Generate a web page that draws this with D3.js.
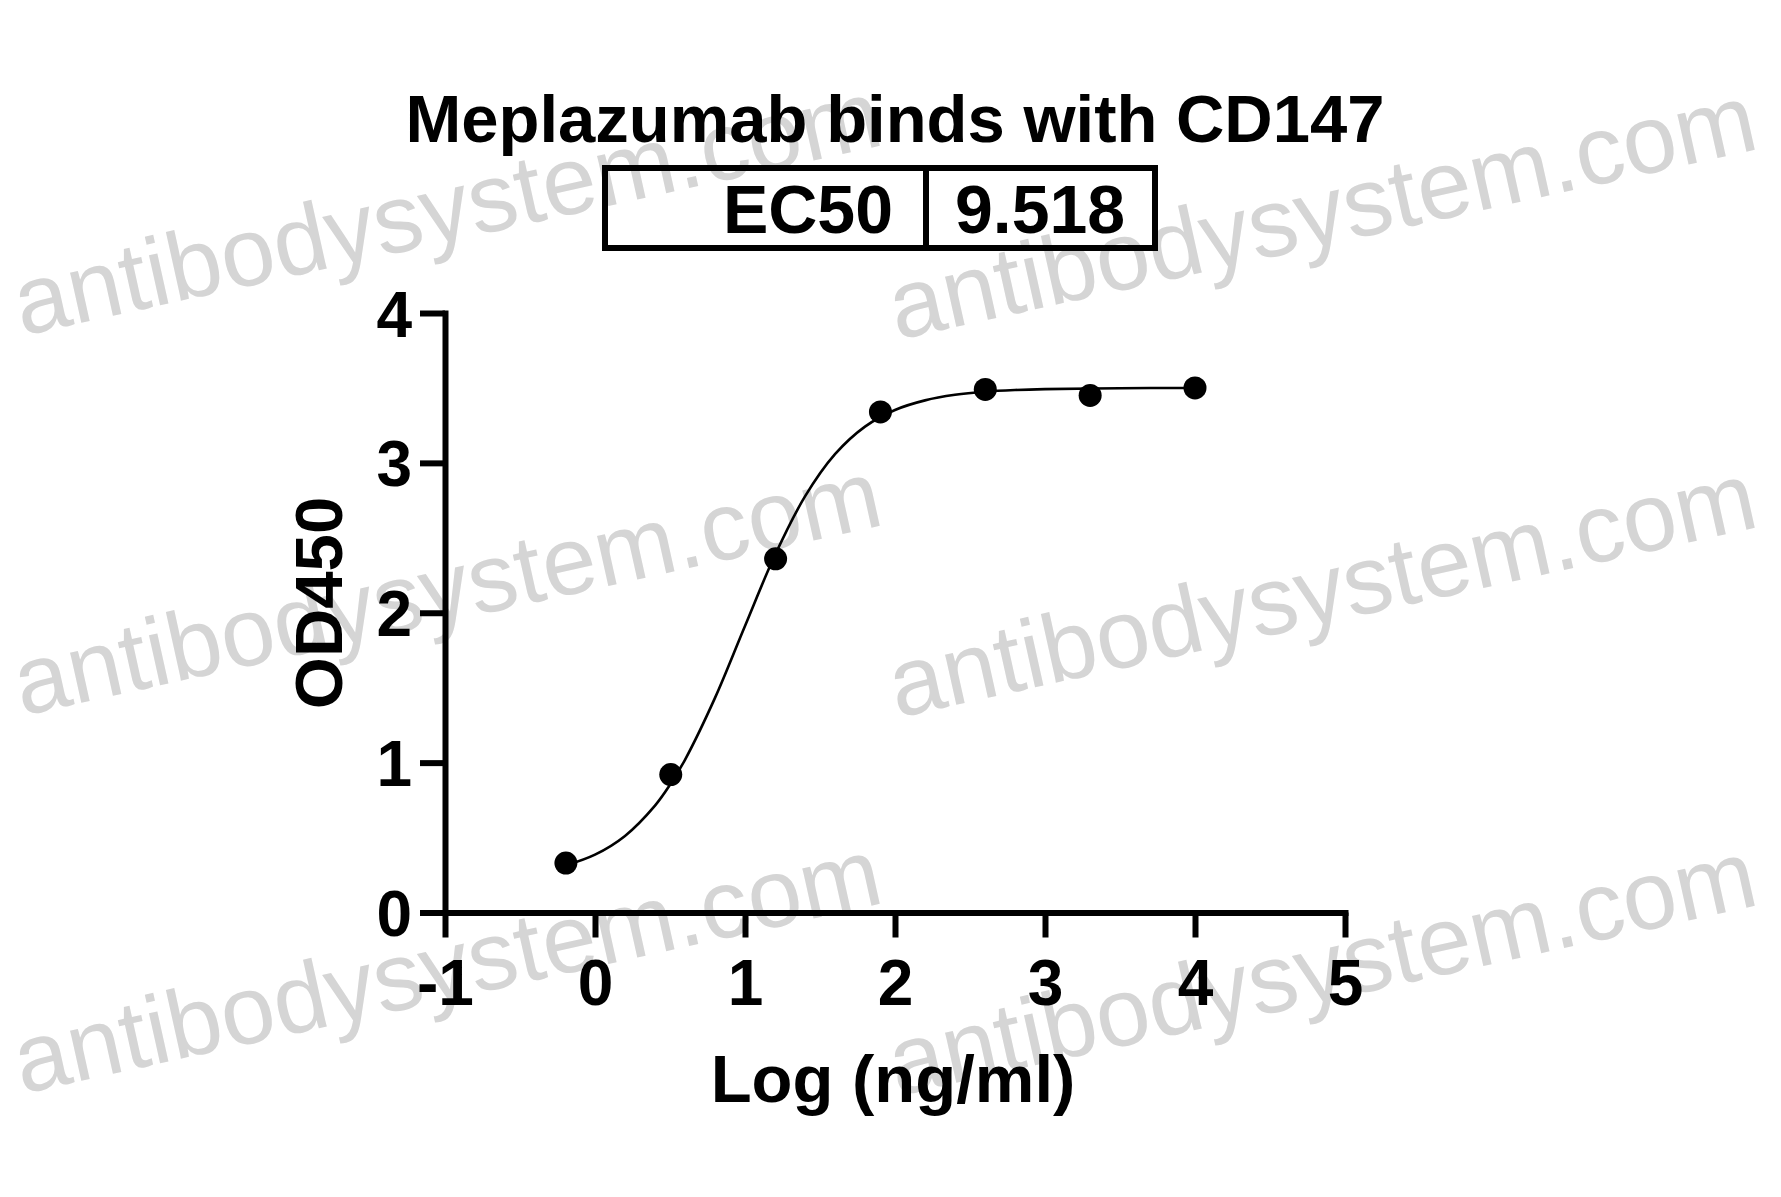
<!DOCTYPE html>
<html>
<head>
<meta charset="utf-8">
<script src="https://cdn.jsdelivr.net/npm/d3@7"></script>
<style>
  html, body { margin: 0; padding: 0; background: #ffffff; }
  svg { display: block; }
  text { font-family: "Liberation Sans", Arial, Helvetica, sans-serif; }
</style>
</head>
<body>
<svg id="chart" width="1781" height="1197"></svg>
<script>
// ---- data ----
const chartTitle = "Meplazumab binds with CD147";
const ec50Label = "EC50";
const ec50Value = "9.518";
const xAxisTitle = "Log (ng/ml)";
const yAxisTitle = "OD450";
const xTicks = [-1, 0, 1, 2, 3, 4, 5];
const xTickLabels = ["-1", "0", "1", "2", "3", "4", "5"];
const yTicks = [0, 1, 2, 3, 4];
const yTickLabels = ["0", "1", "2", "3", "4"];
// measured points: log10 concentration (ng/ml) and OD450
const logConc = [-0.194, 0.505, 1.204, 1.903, 2.602, 3.301, 4.0];
const od450 = [0.33, 0.92, 2.36, 3.34, 3.49, 3.45, 3.50];
// fitted curve
const curveX = [-0.19, 0.0, 0.2, 0.4, 0.5, 0.6, 0.8, 1.0, 1.2, 1.4, 1.6, 1.8, 2.0, 2.2, 2.4, 2.6, 2.8, 3.0, 3.5, 4.0];
const curveY = [0.316, 0.386, 0.511, 0.713, 0.852, 1.019, 1.432, 1.912, 2.385, 2.776, 3.058, 3.242, 3.353, 3.417, 3.454, 3.475, 3.486, 3.492, 3.498, 3.500];
const watermarkText = "antibodysystem.com";

// ---- layout ----
const svg = d3.select("#chart");
const x = d3.scaleLinear().domain([-1, 5]).range([445, 1345]);
const y = d3.scaleLinear().domain([0, 4]).range([912.5, 313]);

// watermarks
const wmPos = [[22, 336], [897, 340], [22, 716], [897, 718], [22, 1094], [897, 1096]];
const wm = svg.append("g").attr("class", "watermarks");
wmPos.forEach(p => {
  wm.append("text")
    .attr("transform", `translate(${p[0]},${p[1]}) rotate(-12.5)`)
    .attr("font-size", 97)
    .attr("fill", "#d5d5d5")
    .attr("textLength", 885)
    .attr("lengthAdjust", "spacingAndGlyphs")
    .text(watermarkText);
});

// title
svg.append("text")
  .attr("x", 895).attr("y", 142)
  .attr("text-anchor", "middle")
  .attr("font-size", 67).attr("font-weight", "bold")
  .attr("fill", "#000")
  .text(chartTitle);

// EC50 box
const box = svg.append("g");
box.append("rect")
  .attr("x", 605).attr("y", 168).attr("width", 550).attr("height", 80)
  .attr("fill", "none").attr("stroke", "#000").attr("stroke-width", 6);
box.append("line")
  .attr("x1", 926).attr("x2", 926).attr("y1", 168).attr("y2", 248)
  .attr("stroke", "#000").attr("stroke-width", 6);
box.append("text")
  .attr("x", 893).attr("y", 233)
  .attr("text-anchor", "end")
  .attr("font-size", 68).attr("font-weight", "bold")
  .text(ec50Label);
box.append("text")
  .attr("x", 955).attr("y", 233)
  .attr("text-anchor", "start")
  .attr("font-size", 68).attr("font-weight", "bold")
  .text(ec50Value);

// axes
const xAxis = d3.axisBottom(x).tickValues(xTicks).tickSize(25).tickSizeOuter(0).tickPadding(22)
  .tickFormat((d, i) => xTickLabels[i]);
const yAxis = d3.axisLeft(y).tickValues(yTicks).tickSize(25).tickSizeOuter(0).tickPadding(8)
  .tickFormat((d, i) => yTickLabels[i]);

const gx = svg.append("g").attr("transform", `translate(0,${y(0)})`).call(xAxis);
const gy = svg.append("g").attr("transform", `translate(${x(-1)},0)`).call(yAxis);

[gx, gy].forEach(g => {
  g.select(".domain").attr("stroke", "#000").attr("stroke-width", 6).attr("stroke-linecap", "square");
  g.selectAll(".tick line").attr("stroke", "#000").attr("stroke-width", 6);
  g.selectAll(".tick text")
    .attr("fill", "#000")
    .attr("font-size", 64)
    .attr("font-weight", "bold")
    .attr("font-family", "\"Liberation Sans\", Arial, sans-serif");
});
gx.selectAll(".tick text").attr("dy", "0.71em");
gy.selectAll(".tick text").attr("dy", "0.36em");

// axis titles
svg.append("text")
  .attr("x", 893).attr("y", 1102)
  .attr("text-anchor", "middle")
  .attr("font-size", 67).attr("font-weight", "bold")
  .text(xAxisTitle);
svg.append("text")
  .attr("transform", "translate(342,603) rotate(-90)")
  .attr("text-anchor", "middle")
  .attr("font-size", 67).attr("font-weight", "bold")
  .text(yAxisTitle);

// fitted curve
const curvePts = curveX.map((v, i) => [v, curveY[i]]);
svg.append("path")
  .datum(curvePts)
  .attr("fill", "none")
  .attr("stroke", "#000")
  .attr("stroke-width", 2.6)
  .attr("d", d3.line().x(d => x(d[0])).y(d => y(d[1])).curve(d3.curveCatmullRom.alpha(0.5)));

// points
svg.append("g").selectAll("circle")
  .data(logConc.map((v, i) => [v, od450[i]]))
  .join("circle")
  .attr("cx", d => x(d[0]))
  .attr("cy", d => y(d[1]))
  .attr("r", 11.5)
  .attr("fill", "#000");
</script>
</body>
</html>
